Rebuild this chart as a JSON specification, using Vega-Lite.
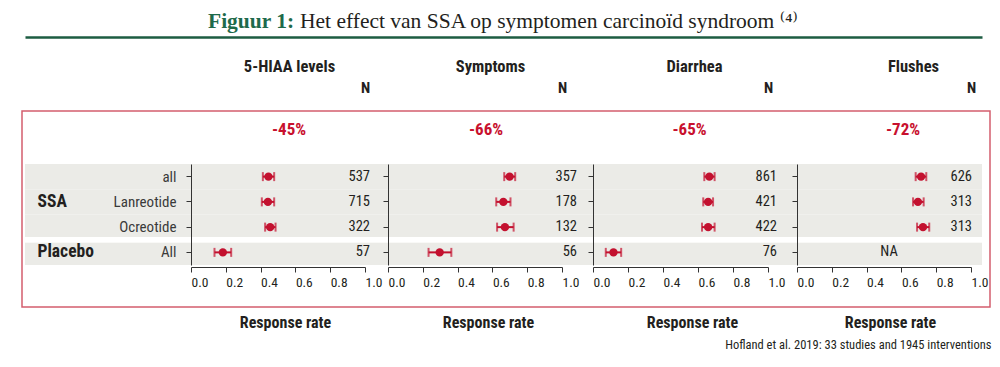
{
  "$schema": "https://vega.github.io/schema/vega-lite/v6.json",
  "width": 968,
  "height": 196,
  "autosize": {"type": "none"},
  "padding": {"left": 22, "top": 111, "right": 10, "bottom": 60},
  "background": "white",
  "title": {
    "text": "Figuur 1:",
    "subtitle": "Het effect van SSA op symptomen carcinoïd syndroom ⁽⁴⁾",
    "anchor": "start",
    "frame": "group",
    "dx": 278,
    "offset": 5,
    "fontSize": 21.5,
    "fontWeight": "bold",
    "color": "#1e6a4b",
    "subtitleFontSize": 21.5,
    "subtitleColor": "#231f20",
    "subtitleFontWeight": "normal",
    "subtitlePadding": -21.5,
    "encoding": {"dx": {"value": 186}}
  },
  "datasets": {
    "rows": [
      {"panel": "5-HIAA levels", "row": "all", "rate": 0.445, "lo": 0.413, "hi": 0.478, "n": "537"},
      {"panel": "5-HIAA levels", "row": "Lanreotide", "rate": 0.442, "lo": 0.407, "hi": 0.478, "n": "715"},
      {"panel": "5-HIAA levels", "row": "Ocreotide", "rate": 0.455, "lo": 0.426, "hi": 0.486, "n": "322"},
      {"panel": "5-HIAA levels", "row": "All", "rate": 0.183, "lo": 0.135, "hi": 0.231, "n": "57"},
      {"panel": "Symptoms", "row": "all", "rate": 0.699, "lo": 0.668, "hi": 0.731, "n": "357"},
      {"panel": "Symptoms", "row": "Lanreotide", "rate": 0.663, "lo": 0.622, "hi": 0.704, "n": "178"},
      {"panel": "Symptoms", "row": "Ocreotide", "rate": 0.672, "lo": 0.627, "hi": 0.722, "n": "132"},
      {"panel": "Symptoms", "row": "All", "rate": 0.297, "lo": 0.233, "hi": 0.364, "n": "56"},
      {"panel": "Diarrhea", "row": "all", "rate": 0.665, "lo": 0.636, "hi": 0.695, "n": "861"},
      {"panel": "Diarrhea", "row": "Lanreotide", "rate": 0.658, "lo": 0.63, "hi": 0.686, "n": "421"},
      {"panel": "Diarrhea", "row": "Ocreotide", "rate": 0.658, "lo": 0.623, "hi": 0.695, "n": "422"},
      {"panel": "Diarrhea", "row": "All", "rate": 0.117, "lo": 0.073, "hi": 0.161, "n": "76"},
      {"panel": "Flushes", "row": "all", "rate": 0.713, "lo": 0.682, "hi": 0.743, "n": "626"},
      {"panel": "Flushes", "row": "Lanreotide", "rate": 0.695, "lo": 0.667, "hi": 0.728, "n": "313"},
      {"panel": "Flushes", "row": "Ocreotide", "rate": 0.724, "lo": 0.69, "hi": 0.76, "n": "313"},
      {"panel": "Flushes", "row": "All", "rate": null, "lo": null, "hi": null, "n": "NA"}
    ],
    "pcts": [
      {"panel": "5-HIAA levels", "change": "-45%"},
      {"panel": "Symptoms", "change": "-66%"},
      {"panel": "Diarrhea", "change": "-65%"},
      {"panel": "Flushes", "change": "-72%"}
    ]
  },
  "layer": [
    {
      "data": {"name": "rows"},
      "transform": [{"filter": "datum.panel === '5-HIAA levels'"}],
      "layer": [
        {
          "mark": {"type": "rect", "color": "#ebebe7"},
          "encoding": {
            "y": {"field": "row", "type": "nominal", "scale": {"type": "band", "domain": ["all", "Lanreotide", "Ocreotide", "All"], "range": [53, 154], "paddingInner": 0, "paddingOuter": 0},
              "axis": {"orient": "left", "offset": -15, "zindex": 2, "domain": false, "ticks": false, "tickSize": 0, "labelPadding": 0, "labelAlign": "left", "labelFontSize": 17.5, "labelFontWeight": "bold", "labelColor": "#231f20", "labelExpr": "datum.value === 'Lanreotide' ? 'SSA' : (datum.value === 'All' ? 'Placebo' : '')", "title": null}},
            "x": {"datum": 0, "type": "quantitative", "scale": {"domain": [0, 1], "range": [3, 960], "nice": false, "zero": false},
              "axis": {"orient": "top", "offset": 74, "domainColor": "#1d5c42", "domainWidth": 2.5, "ticks": false, "labels": false, "title": null, "grid": false}},
            "x2": {"datum": 1}
          }
        },
        {
          "mark": {"type": "rule", "color": "white", "strokeWidth": 5},
          "encoding": {
            "y": {"datum": "All", "type": "nominal", "bandPosition": 0, "axis": null},
            "x": {"datum": 0, "type": "quantitative",
              "axis": {"orient": "bottom", "domain": false, "ticks": false, "labels": false, "grid": false, "title": "Hofland et al. 2019: 33 studies and 1945 interventions", "titleX": 969, "titleY": 31, "titleAlign": "right", "titleBaseline": "top", "titleFontSize": 12.5, "titleFontWeight": "normal"}},
            "x2": {"datum": 1}
          }
        }
      ],
      "resolve": {"axis": {"x": "independent", "y": "independent"}}
    },
    {
      "data": {"name": "rows"},
      "transform": [{"filter": "datum.panel === '5-HIAA levels'"}],
      "layer": [
        {
          "mark": {"type": "rule", "color": "#c3112f", "strokeWidth": 2},
          "encoding": {
            "x": {"field": "lo", "type": "quantitative", "scale": {"domain": [0, 1], "range": [169, 343], "nice": false, "zero": false},
              "axis": {"orient": "bottom", "offset": -40, "values": [0, 0.2, 0.4, 0.6, 0.8, 1], "format": ".1f", "labelFlush": false, "labelAlign": "left", "labelDx": -2, "labelFontSize": 13.5, "labelPadding": 3, "tickSize": 5, "grid": false, "title": "Response rate", "titleX": 263, "titleAlign": "center", "titleFontSize": 16, "titleFontWeight": "bold", "titlePadding": 26}},
            "x2": {"field": "hi"},
            "y": {"field": "row", "type": "nominal", "scale": {"type": "band", "domain": ["all", "Lanreotide", "Ocreotide", "All"], "range": [53, 154], "paddingInner": 0, "paddingOuter": 0},
              "axis": {"orient": "left", "offset": -169, "zindex": 2, "title": null, "grid": false, "tickSize": 5, "labelPadding": 10, "labelFontSize": 15, "labelColor": "#3a3a3a"}}
          }
        },
        {"mark": {"type": "tick", "color": "#c3112f", "thickness": 2, "size": 9}, "encoding": {"x": {"field": "lo", "type": "quantitative", "axis": null}, "y": {"field": "row", "type": "nominal", "axis": null}}},
        {"mark": {"type": "tick", "color": "#c3112f", "thickness": 2, "size": 9}, "encoding": {"x": {"field": "hi", "type": "quantitative", "axis": null}, "y": {"field": "row", "type": "nominal", "axis": null}}},
        {"mark": {"type": "circle", "color": "#c3112f", "size": 70, "opacity": 1}, "encoding": {"x": {"field": "rate", "type": "quantitative", "axis": null}, "y": {"field": "row", "type": "nominal", "axis": null}}},
        {
          "transform": [{"filter": "datum.n !== 'NA'"}],
          "mark": {"type": "text", "align": "right", "baseline": "middle", "dx": 5, "fontSize": 14.5, "color": "#231f20"},
          "encoding": {
            "x": {"datum": 1, "type": "quantitative",
              "axis": {"orient": "top", "offset": 14, "values": [1], "labelExpr": "'N'", "domain": false, "ticks": false, "tickSize": 0, "grid": false, "labelFlush": false, "labelAlign": "center", "labelDx": 2, "labelPadding": 2, "labelFontSize": 15, "labelFontWeight": "bold", "title": "5-HIAA levels", "titleX": 267, "titleAlign": "center", "titleFontSize": 16.5, "titleFontWeight": "bold", "titlePadding": 6}},
            "y": {"field": "row", "type": "nominal", "axis": null},
            "text": {"field": "n"}
          }
        },
        {
          "data": {"name": "pcts"},
          "transform": [{"filter": "datum.panel === '5-HIAA levels'"}],
          "mark": {"type": "text", "dx": 11, "dy": -47, "fontSize": 17, "fontWeight": "bold", "color": "#c8102e", "baseline": "middle"},
          "encoding": {"x": {"datum": 0.5, "type": "quantitative", "axis": null}, "y": {"datum": "all", "type": "nominal", "axis": null}, "text": {"field": "change"}}
        }
      ],
      "resolve": {"axis": {"x": "independent", "y": "independent"}}
    },
    {
      "data": {"name": "rows"},
      "transform": [{"filter": "datum.panel === 'Symptoms'"}],
      "layer": [
        {
          "mark": {"type": "rule", "color": "#c3112f", "strokeWidth": 2},
          "encoding": {
            "x": {"field": "lo", "type": "quantitative", "scale": {"domain": [0, 1], "range": [366, 540], "nice": false, "zero": false},
              "axis": {"orient": "bottom", "offset": -40, "values": [0, 0.2, 0.4, 0.6, 0.8, 1], "format": ".1f", "labelFlush": false, "labelAlign": "left", "labelDx": -2, "labelFontSize": 13.5, "labelPadding": 3, "tickSize": 5, "grid": false, "title": "Response rate", "titleX": 466, "titleAlign": "center", "titleFontSize": 16, "titleFontWeight": "bold", "titlePadding": 26}},
            "x2": {"field": "hi"},
            "y": {"field": "row", "type": "nominal", "scale": {"type": "band", "domain": ["all", "Lanreotide", "Ocreotide", "All"], "range": [53, 154], "paddingInner": 0, "paddingOuter": 0},
              "axis": {"orient": "left", "offset": -366, "zindex": 2, "title": null, "grid": false, "tickSize": 5, "labels": false}}
          }
        },
        {"mark": {"type": "tick", "color": "#c3112f", "thickness": 2, "size": 9}, "encoding": {"x": {"field": "lo", "type": "quantitative", "axis": null}, "y": {"field": "row", "type": "nominal", "axis": null}}},
        {"mark": {"type": "tick", "color": "#c3112f", "thickness": 2, "size": 9}, "encoding": {"x": {"field": "hi", "type": "quantitative", "axis": null}, "y": {"field": "row", "type": "nominal", "axis": null}}},
        {"mark": {"type": "circle", "color": "#c3112f", "size": 70, "opacity": 1}, "encoding": {"x": {"field": "rate", "type": "quantitative", "axis": null}, "y": {"field": "row", "type": "nominal", "axis": null}}},
        {
          "transform": [{"filter": "datum.n !== 'NA'"}],
          "mark": {"type": "text", "align": "right", "baseline": "middle", "dx": 15, "fontSize": 14.5, "color": "#231f20"},
          "encoding": {
            "x": {"datum": 1, "type": "quantitative",
              "axis": {"orient": "top", "offset": 14, "values": [1], "labelExpr": "'N'", "domain": false, "ticks": false, "tickSize": 0, "grid": false, "labelFlush": false, "labelAlign": "center", "labelDx": 6, "labelPadding": 2, "labelFontSize": 15, "labelFontWeight": "bold", "title": "Symptoms", "titleX": 468, "titleAlign": "center", "titleFontSize": 16.5, "titleFontWeight": "bold", "titlePadding": 6}},
            "y": {"field": "row", "type": "nominal", "axis": null},
            "text": {"field": "n"}
          }
        },
        {
          "data": {"name": "pcts"},
          "transform": [{"filter": "datum.panel === 'Symptoms'"}],
          "mark": {"type": "text", "dx": 11, "dy": -47, "fontSize": 17, "fontWeight": "bold", "color": "#c8102e", "baseline": "middle"},
          "encoding": {"x": {"datum": 0.5, "type": "quantitative", "axis": null}, "y": {"datum": "all", "type": "nominal", "axis": null}, "text": {"field": "change"}}
        }
      ],
      "resolve": {"axis": {"x": "independent", "y": "independent"}}
    },
    {
      "data": {"name": "rows"},
      "transform": [{"filter": "datum.panel === 'Diarrhea'"}],
      "layer": [
        {
          "mark": {"type": "rule", "color": "#c3112f", "strokeWidth": 2},
          "encoding": {
            "x": {"field": "lo", "type": "quantitative", "scale": {"domain": [0, 1], "range": [571, 746], "nice": false, "zero": false},
              "axis": {"orient": "bottom", "offset": -40, "values": [0, 0.2, 0.4, 0.6, 0.8, 1], "format": ".1f", "labelFlush": false, "labelAlign": "left", "labelDx": -2, "labelFontSize": 13.5, "labelPadding": 3, "tickSize": 5, "grid": false, "title": "Response rate", "titleX": 670, "titleAlign": "center", "titleFontSize": 16, "titleFontWeight": "bold", "titlePadding": 26}},
            "x2": {"field": "hi"},
            "y": {"field": "row", "type": "nominal", "scale": {"type": "band", "domain": ["all", "Lanreotide", "Ocreotide", "All"], "range": [53, 154], "paddingInner": 0, "paddingOuter": 0},
              "axis": {"orient": "left", "offset": -571, "zindex": 2, "title": null, "grid": false, "tickSize": 5, "labels": false}}
          }
        },
        {"mark": {"type": "tick", "color": "#c3112f", "thickness": 2, "size": 9}, "encoding": {"x": {"field": "lo", "type": "quantitative", "axis": null}, "y": {"field": "row", "type": "nominal", "axis": null}}},
        {"mark": {"type": "tick", "color": "#c3112f", "thickness": 2, "size": 9}, "encoding": {"x": {"field": "hi", "type": "quantitative", "axis": null}, "y": {"field": "row", "type": "nominal", "axis": null}}},
        {"mark": {"type": "circle", "color": "#c3112f", "size": 70, "opacity": 1}, "encoding": {"x": {"field": "rate", "type": "quantitative", "axis": null}, "y": {"field": "row", "type": "nominal", "axis": null}}},
        {
          "transform": [{"filter": "datum.n !== 'NA'"}],
          "mark": {"type": "text", "align": "right", "baseline": "middle", "dx": 9, "fontSize": 14.5, "color": "#231f20"},
          "encoding": {
            "x": {"datum": 1, "type": "quantitative",
              "axis": {"orient": "top", "offset": 14, "values": [1], "labelExpr": "'N'", "domain": false, "ticks": false, "tickSize": 0, "grid": false, "labelFlush": false, "labelAlign": "center", "labelDx": 2, "labelPadding": 2, "labelFontSize": 15, "labelFontWeight": "bold", "title": "Diarrhea", "titleX": 672, "titleAlign": "center", "titleFontSize": 16.5, "titleFontWeight": "bold", "titlePadding": 6}},
            "y": {"field": "row", "type": "nominal", "axis": null},
            "text": {"field": "n"}
          }
        },
        {
          "data": {"name": "pcts"},
          "transform": [{"filter": "datum.panel === 'Diarrhea'"}],
          "mark": {"type": "text", "dx": 9, "dy": -47, "fontSize": 17, "fontWeight": "bold", "color": "#c8102e", "baseline": "middle"},
          "encoding": {"x": {"datum": 0.5, "type": "quantitative", "axis": null}, "y": {"datum": "all", "type": "nominal", "axis": null}, "text": {"field": "change"}}
        }
      ],
      "resolve": {"axis": {"x": "independent", "y": "independent"}}
    },
    {
      "data": {"name": "rows"},
      "transform": [{"filter": "datum.panel === 'Flushes'"}],
      "layer": [
        {
          "mark": {"type": "rule", "color": "#c3112f", "strokeWidth": 2},
          "encoding": {
            "x": {"field": "lo", "type": "quantitative", "scale": {"domain": [0, 1], "range": [775, 949], "nice": false, "zero": false},
              "axis": {"orient": "bottom", "offset": -40, "values": [0, 0.2, 0.4, 0.6, 0.8, 1], "format": ".1f", "labelFlush": false, "labelAlign": "left", "labelDx": -2, "labelFontSize": 13.5, "labelPadding": 3, "tickSize": 5, "grid": false, "title": "Response rate", "titleX": 868, "titleAlign": "center", "titleFontSize": 16, "titleFontWeight": "bold", "titlePadding": 26}},
            "x2": {"field": "hi"},
            "y": {"field": "row", "type": "nominal", "scale": {"type": "band", "domain": ["all", "Lanreotide", "Ocreotide", "All"], "range": [53, 154], "paddingInner": 0, "paddingOuter": 0},
              "axis": {"orient": "left", "offset": -775, "zindex": 2, "title": null, "grid": false, "tickSize": 5, "labels": false}}
          }
        },
        {"mark": {"type": "tick", "color": "#c3112f", "thickness": 2, "size": 9}, "encoding": {"x": {"field": "lo", "type": "quantitative", "axis": null}, "y": {"field": "row", "type": "nominal", "axis": null}}},
        {"mark": {"type": "tick", "color": "#c3112f", "thickness": 2, "size": 9}, "encoding": {"x": {"field": "hi", "type": "quantitative", "axis": null}, "y": {"field": "row", "type": "nominal", "axis": null}}},
        {"mark": {"type": "circle", "color": "#c3112f", "size": 70, "opacity": 1}, "encoding": {"x": {"field": "rate", "type": "quantitative", "axis": null}, "y": {"field": "row", "type": "nominal", "axis": null}}},
        {
          "transform": [{"filter": "datum.n !== 'NA'"}],
          "mark": {"type": "text", "align": "right", "baseline": "middle", "dx": 1, "fontSize": 14.5, "color": "#231f20"},
          "encoding": {
            "x": {"datum": 1, "type": "quantitative",
              "axis": {"orient": "top", "offset": 14, "values": [1], "labelExpr": "'N'", "domain": false, "ticks": false, "tickSize": 0, "grid": false, "labelFlush": false, "labelAlign": "center", "labelDx": -3, "labelPadding": 2, "labelFontSize": 15, "labelFontWeight": "bold", "title": "Flushes", "titleX": 891, "titleAlign": "center", "titleFontSize": 16.5, "titleFontWeight": "bold", "titlePadding": 6}},
            "y": {"field": "row", "type": "nominal", "axis": null},
            "text": {"field": "n"}
          }
        },
        {
          "transform": [{"filter": "datum.n === 'NA'"}],
          "mark": {"type": "text", "baseline": "middle", "dx": 5, "fontSize": 14.5, "color": "#231f20"},
          "encoding": {"x": {"datum": 0.5, "type": "quantitative", "axis": null}, "y": {"field": "row", "type": "nominal", "axis": null}, "text": {"field": "n"}}
        },
        {
          "data": {"name": "pcts"},
          "transform": [{"filter": "datum.panel === 'Flushes'"}],
          "mark": {"type": "text", "dx": 19, "dy": -47, "fontSize": 17, "fontWeight": "bold", "color": "#c8102e", "baseline": "middle"},
          "encoding": {"x": {"datum": 0.5, "type": "quantitative", "axis": null}, "y": {"datum": "all", "type": "nominal", "axis": null}, "text": {"field": "change"}}
        }
      ],
      "resolve": {"axis": {"x": "independent", "y": "independent"}}
    }
  ],
  "resolve": {"scale": {"x": "independent"}, "axis": {"x": "independent", "y": "independent"}},
  "config": {
    "font": "Roboto Condensed, Liberation Sans Narrow, DejaVu Sans Condensed, sans-serif",
    "view": {"stroke": "#d35d6e", "strokeWidth": 1.5},
    "axis": {"labelFont": "Roboto Condensed, Liberation Sans Narrow, DejaVu Sans Condensed, sans-serif", "titleFont": "Roboto Condensed, Liberation Sans Narrow, DejaVu Sans Condensed, sans-serif", "grid": false, "domainColor": "#333333", "tickColor": "#333333", "labelColor": "#231f20", "titleColor": "#231f20"},
    "text": {"font": "Roboto Condensed, Liberation Sans Narrow, DejaVu Sans Condensed, sans-serif"},
    "title": {"font": "Liberation Serif, DejaVu Serif, serif", "subtitleFont": "Liberation Serif, DejaVu Serif, serif"}
  }
}
